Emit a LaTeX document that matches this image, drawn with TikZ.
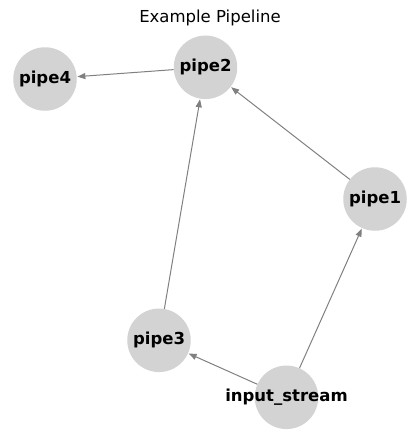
\documentclass[tikz,border=0pt]{standalone}
\usepackage{fontspec}
\setmainfont{DejaVu Sans}
\usetikzlibrary{arrows.meta}
\definecolor{nodegray}{HTML}{D3D3D3}
\definecolor{edgegray}{HTML}{808080}
\begin{document}
\begin{tikzpicture}[x=1pt,y=-1pt,
  pnode/.style={circle,fill=nodegray,minimum size=63.5pt,inner sep=0pt},
  plabel/.style={font=\fontsize{16.5}{18}\selectfont\bfseries,inner sep=0pt},
  edge/.style={draw=edgegray,line width=1pt,-{Stealth[length=8pt,width=6pt,inset=0pt]},shorten >=0.5pt}]
\useasboundingbox (0,0) rectangle (419,442);
\node[font=\fontsize{16.5}{18}\selectfont] (title) at (210,18) {Example Pipeline};
\node[pnode] (p4) at (45,79) {};
\node[pnode] (p2) at (205.5,67.3) {};
\node[pnode] (p1) at (375,199) {};
\node[pnode] (p3) at (159,340.3) {};
\node[pnode] (in) at (286.5,397.3) {};
\begin{scope}[on background layer/.style={}]
\end{scope}
\path[edge] (p2) -- (p4);
\path[edge] (p3) -- (p2);
\path[edge] (p1) -- (p2);
\path[edge] (in) -- (p3);
\path[edge] (in) -- (p1);
\node[plabel] at (p4) {pipe4};
\node[plabel] at (p2) {pipe2};
\node[plabel] at (p1) {pipe1};
\node[plabel] at (p3) {pipe3};
\node[plabel] at (in) {input\_stream};
\end{tikzpicture}
\end{document}
